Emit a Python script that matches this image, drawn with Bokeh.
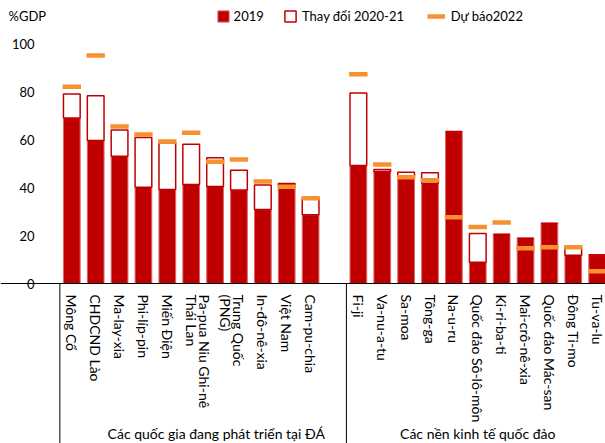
from bokeh.plotting import figure
from bokeh.models import FixedTicker, Range1d, Label, Legend, LegendItem, ColumnDataSource
from bokeh.embed import file_html
from bokeh.resources import INLINE

# ---------------- data ----------------
dev_names = ["Mông Cổ", "CHDCND Lào", "Ma-lay-xia", "Phi-líp-pin", "Miến Điện", "Thái Lan",
             "(PNG)\nPa-pua Niu Ghi-nê", "Trung Quốc", "In-đô-nê-xia", "Việt Nam", "Cam-pu-chia"]
dev_2019 = [69.0, 59.6, 53.0, 40.1, 39.2, 41.3, 40.4, 39.0, 30.8, 41.0, 28.6]
dev_change = [10.0, 18.6, 11.0, 20.7, 19.4, 16.7, 12.0, 8.2, 10.2, 0.7, 6.8]
dev_forecast = [82.0, 95.0, 65.4, 62.1, 59.2, 62.8, 50.7, 51.7, 42.5, 40.3, 35.5]

isl_names = ["Fi-ji", "Va-nu-a-tu", "Sa-moa", "Tông-ga", "Na-u-ru", "Quốc đảo Sô-lô-môn",
             "Ki-ri-ba-ti", "Mai-crô-nê-xia", "Quốc đảo Mác-san", "Đông Ti-mo", "Tu-va-lu"]
isl_2019 = [49.2, 46.7, 44.7, 41.8, 63.3, 8.9, 20.5, 18.9, 25.1, 11.8, 12.0]
isl_change = [30.2, 0.8, 1.7, 4.3, 0.0, 11.9, 0.0, 0.0, 0.0, 3.1, 0.0]
isl_forecast = [87.2, 49.6, 44.3, 43.0, 27.6, 23.5, 25.4, 14.7, 15.1, 15.1, 5.1]

group_names = ["Các quốc gia đang phát triển tại ĐÁ", "Các nền kinh tế quốc đảo"]
y_ticks = [0, 20, 40, 60, 80, 100]
series_names = ["2019", "Thay đổi 2020-21", "Dự báo2022"]
y_unit = "%GDP"

# ---------------- build ----------------
FONT = "Lato"
RED = "#C00000"
ORANGE = "#F7912F"

W, H = 605, 443
LEFT = 59                    # pixel position of the value axis
PX_PER_UNIT = 2.4
BASE_FROM_TOP = 283          # pixels from figure top to the zero line
y_top = BASE_FROM_TOP / PX_PER_UNIT
y_bot = -(H - BASE_FROM_TOP) / PX_PER_UNIT
SLOT = 23.88
x_start = -71.3 / SLOT
x_end = x_start + W / SLOT
y_axis_at = x_start + LEFT / SLOT

names = dev_names + isl_names
n_dev = len(dev_names)
xs = list(range(n_dev)) + [n_dev + 1 + i for i in range(len(isl_names))]
v19 = dev_2019 + isl_2019
chg = dev_change + isl_change
fc = dev_forecast + isl_forecast
tops = [a + b for a, b in zip(v19, chg)]
half = 0.385

src = ColumnDataSource(dict(x=xs, v19=v19, top=tops, fc=fc,
                            x0=[x - half for x in xs], x1=[x + half for x in xs]))

p = figure(width=W, height=H, output_backend="svg", toolbar_location=None,
           title=None, min_border_left=0, min_border_right=0, min_border_top=0,
           min_border_bottom=0, x_range=Range1d(x_start, x_end), y_range=Range1d(y_bot, y_top))

bar_w = 0.70
r19 = p.vbar(x="x", top="v19", bottom=0, width=bar_w, source=src, fill_color=RED,
             line_color="#D86A6A", line_width=1)
rchg = p.vbar(x="x", top="top", bottom="v19", width=bar_w, source=src, fill_color="white",
              line_color=RED, line_width=1.5)
rfc = p.segment(x0="x0", y0="fc", x1="x1", y1="fc", source=src, line_color=ORANGE,
                line_width=4.5)

# group separators below the baseline
sep_x = [-0.5, n_dev + 0.5]
p.segment(x0=sep_x, x1=sep_x, y0=[0, 0], y1=[y_bot, y_bot], line_color="black", line_width=1)

p.xgrid.visible = False
p.ygrid.visible = False
p.outline_line_color = None
p.background_fill_color = "white"

# y axis, fixed at the left edge of the category area
ya = p.yaxis[0]
ya.fixed_location = y_axis_at
ya.ticker = FixedTicker(ticks=y_ticks)
ya.axis_line_color = None
ya.major_tick_line_color = None
ya.minor_tick_line_color = None
ya.major_tick_out = 0
ya.major_label_standoff = 25
ya.major_label_text_font = FONT
ya.major_label_text_font_size = "13px"
ya.major_label_text_color = "black"

# x axis, fixed on the zero line
xa = p.xaxis[0]
xa.fixed_location = 0
xa.ticker = FixedTicker(ticks=xs)
xa.major_label_overrides = {x: n for x, n in zip(xs, names)}
xa.major_label_orientation = "vertical"
xa.axis_line_color = "black"
xa.axis_line_width = 1
xa.major_tick_line_color = None
xa.minor_tick_line_color = None
xa.major_tick_out = 0
xa.major_tick_in = 0
xa.major_label_standoff = 11
xa.major_label_text_font = FONT
xa.major_label_text_font_size = "14px"
xa.major_label_text_color = "black"

# group labels
group_x = [6.05, 17.0]
for gx, gname in zip(group_x, group_names):
    p.add_layout(Label(x=gx, y=2, x_units="data", y_units="screen", text=gname,
                       text_align="center", text_baseline="bottom", text_font=FONT,
                       text_font_size="14px", text_color="black"))

# unit label
p.add_layout(Label(x=8, y=H - 15, x_units="screen", y_units="screen", text=y_unit,
                   text_align="left", text_baseline="middle", text_font=FONT,
                   text_font_size="13px", text_color="black"))

# legends
def mk_legend(label, rend, loc, gw, gh, standoff):
    lg = Legend(items=[LegendItem(label=label, renderers=[rend])], location=loc,
                orientation="horizontal", glyph_width=gw, glyph_height=gh,
                label_standoff=standoff, padding=0, margin=0, spacing=0,
                label_height=14, label_width=0, border_line_color=None,
                background_fill_alpha=0, label_text_font=FONT,
                label_text_font_size="13px", label_text_color="black")
    p.add_layout(lg, "center")

leg_y = H - 24
mk_legend(series_names[0], r19, (215.6, leg_y), 14, 14, 4)
mk_legend(series_names[1], rchg, (283, leg_y), 14, 14, 5)
mk_legend(series_names[2], rfc, (426.7, leg_y), 18, 14, 6)

open("out.html", "w").write(file_html(p, INLINE))
